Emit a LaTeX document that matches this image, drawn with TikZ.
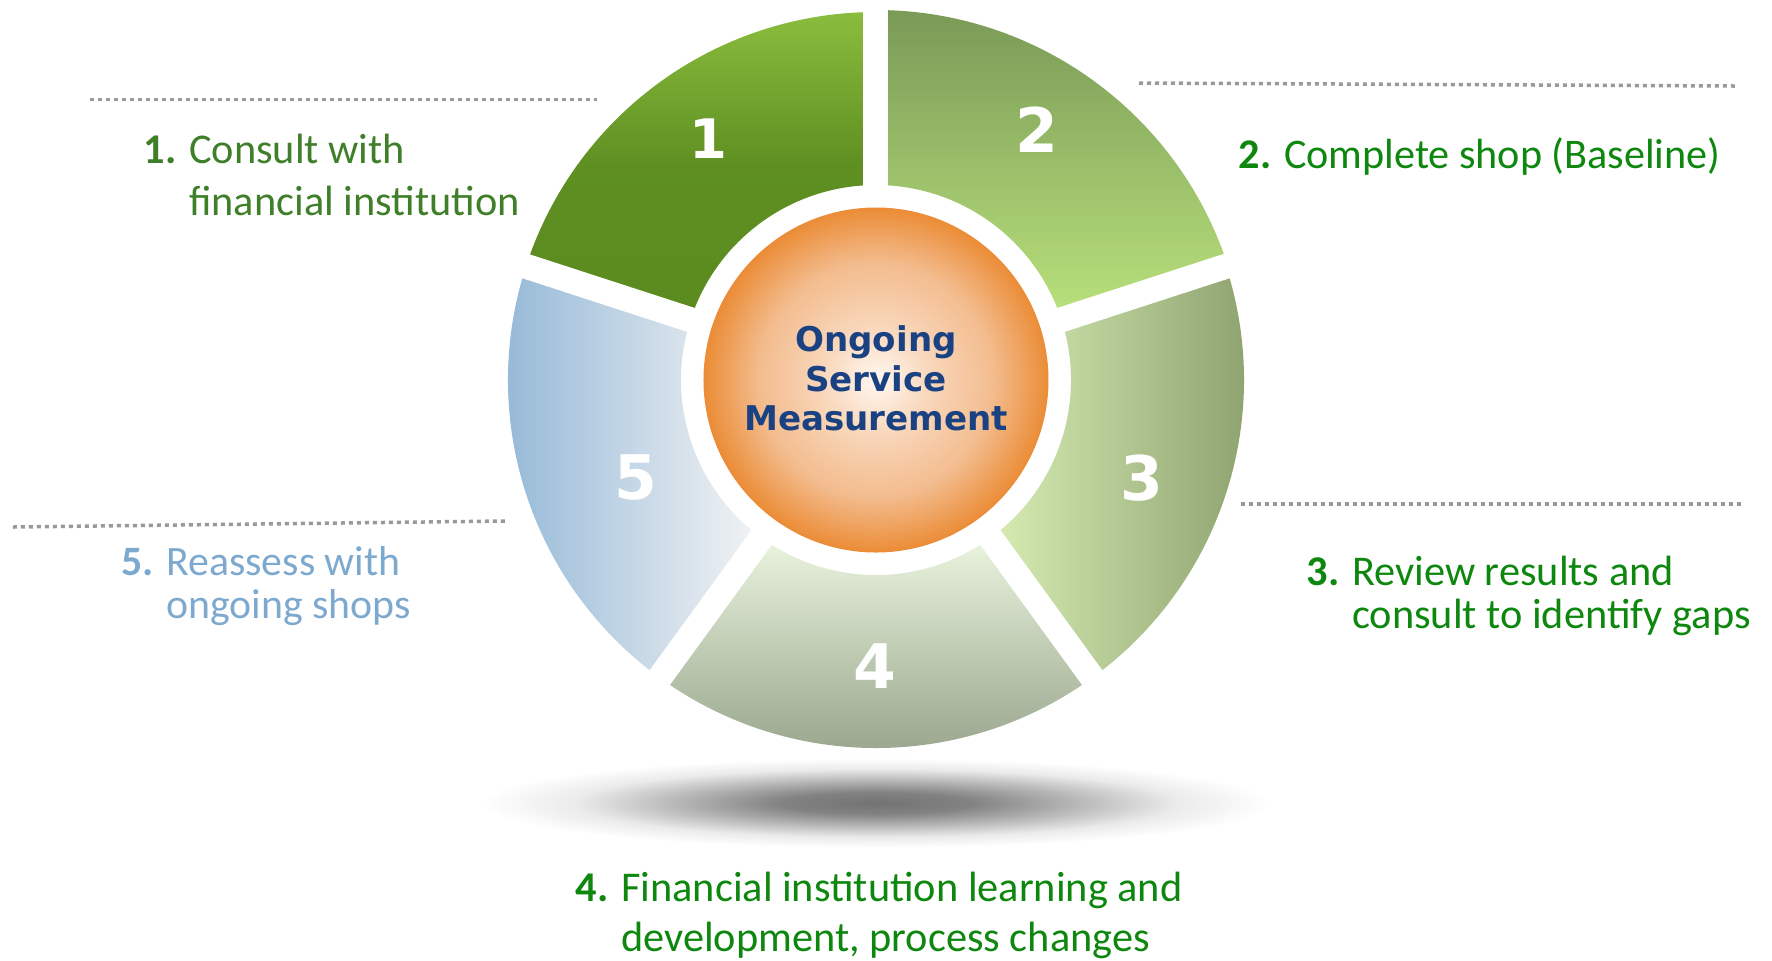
\documentclass[tikz,border=0pt]{standalone}
\usepackage{fontspec}
\setmainfont{Carlito}
\newfontfamily\hubfont{DejaVu Sans}
\usepackage{tikz}
\usepackage{xcolor}

% segment colours
\definecolor{oneTop}{HTML}{8ABD3E}
\definecolor{oneBot}{HTML}{5B8B1F}
\definecolor{twoTop}{HTML}{7A9A57}
\definecolor{twoBot}{HTML}{BAE27C}
\definecolor{threeL}{HTML}{D7EDB4}
\definecolor{threeR}{HTML}{879B69}
\definecolor{fourTop}{HTML}{EAF4DF}
\definecolor{fourBot}{HTML}{939F86}
\definecolor{fiveL}{HTML}{8CB3D5}
\definecolor{fiveR}{HTML}{F4F4F4}
% hub and text colours
\definecolor{hubLight}{HTML}{FFF7F0}
\definecolor{hubMid}{HTML}{F3BC8E}
\definecolor{hubDark}{HTML}{EB8C36}
\definecolor{hubBlue}{HTML}{1A4283}
\definecolor{labOlive}{HTML}{3F7F2A}
\definecolor{labGreen}{HTML}{0E870E}
\definecolor{labBlue}{HTML}{7EA9CF}

\pgfdeclareradialshading{hubglow}{\pgfpoint{0bp}{0bp}}{color(0bp)=(hubLight); color(8bp)=(hubMid!55!hubLight); color(17bp)=(hubMid); color(25bp)=(hubDark); color(50bp)=(hubDark)}
\pgfdeclareradialshading{floorshadow}{\pgfpoint{0bp}{0bp}}{color(0bp)=(black!55); color(6bp)=(black!49); color(13bp)=(black!27); color(19bp)=(black!8); color(25bp)=(white); color(50bp)=(white)}

\tikzset{
  leader/.style={draw=gray!80, line width=0.035cm, dash pattern=on 0.04cm off 0.04cm},
  segnum/.style={text=white, inner sep=0pt, font=\hubfont\bfseries\fontsize{17.5}{17.5}\selectfont},
  steplabel/.style={anchor=base west, inner sep=0pt, align=left},
}

\begin{document}
\begin{tikzpicture}
\useasboundingbox (-8.76,-5.80) rectangle (8.96,3.80);

% shadow on the floor
\shade[shading=floorshadow] (0,-4.23) ellipse (3.95 and 0.45);

% the five ring segments
\shade[top color=oneTop, bottom color=oneBot, middle color=oneBot!92!oneTop]
  (90:1.95) -- (90:3.68) arc[start angle=90, end angle=162, radius=3.68]
  -- (162:1.95) arc[start angle=162, end angle=90, radius=1.95] -- cycle;
\shade[top color=twoTop, bottom color=twoBot]
  (18:1.95) -- (18:3.70) arc[start angle=18, end angle=90, radius=3.70]
  -- (90:1.95) arc[start angle=90, end angle=18, radius=1.95] -- cycle;
\shade[left color=threeL, right color=threeR]
  (-54:1.95) -- (-54:3.68) arc[start angle=-54, end angle=18, radius=3.68]
  -- (18:1.95) arc[start angle=18, end angle=-54, radius=1.95] -- cycle;
\shade[top color=fourTop, bottom color=fourBot]
  (-126:1.95) -- (-126:3.68) arc[start angle=-126, end angle=-54, radius=3.68]
  -- (-54:1.95) arc[start angle=-54, end angle=-126, radius=1.95] -- cycle;
\shade[left color=fiveL, right color=fiveR]
  (162:1.95) -- (162:3.68) arc[start angle=162, end angle=234, radius=3.68]
  -- (234:1.95) arc[start angle=234, end angle=162, radius=1.95] -- cycle;

% white gaps between segments
\foreach \a in {90,18,-54,-126,162}
  \draw[white, line width=0.25cm] (0,0) -- (\a:3.9);

% hub
\shade[shading=hubglow] (0,0) circle (1.725);
\node[font=\hubfont\bfseries\fontsize{9.7}{11.1}\selectfont, text=hubBlue, align=center, anchor=base] (hub) at (0,-0.50) {Ongoing\\Service\\Measurement};

% segment numbers
\node[segnum, font=\hubfont\bfseries\fontsize{15.5}{15.5}\selectfont] (num1) at (-1.68,2.41) {1};
\node[segnum] (num2) at (1.61,2.50) {2};
\node[segnum] (num3) at (2.66,-0.98) {3};
\node[segnum] (num4) at (-0.015,-2.865) {4};
\node[segnum] (num5) at (-2.40,-0.98) {5};

% dotted leaders
\draw[leader] (-7.86,2.807) -- (-2.79,2.807);
\draw[leader] (2.63,2.97) -- (8.59,2.94);
\draw[leader] (3.65,-1.24) -- (8.68,-1.24);
\draw[leader] (-8.63,-1.47) -- (-3.71,-1.41);

% step texts (anchored on the baseline of their last line)
\node[steplabel, text=labOlive, font=\fontsize{12.05}{14.7}\selectfont] (lab1) at (-7.33,1.65)
  {\textbf{1.} Consult with\\\hphantom{\textbf{1.} }financial institution};
\node[steplabel, text=labGreen, font=\fontsize{12.0}{14.7}\selectfont] (lab2) at (3.62,2.117)
  {\textbf{2.} Complete shop (Baseline)};
\node[steplabel, text=labGreen, font=\fontsize{12.05}{12.2}\selectfont] (lab3) at (4.30,-2.48)
  {\textbf{3.} Review results and\\\hphantom{\textbf{3.} }consult to identify gaps};
\node[steplabel, text=labGreen, font=\fontsize{12.05}{14.2}\selectfont] (lab4) at (-3.01,-5.717)
  {\textbf{4.} Financial institution learning and\\\hphantom{\textbf{4.} }development, process changes};
\node[steplabel, text=labBlue, font=\fontsize{11.9}{12.2}\selectfont] (lab5) at (-7.553,-2.38)
  {\textbf{5.} Reassess with\\\hphantom{\textbf{5.} }ongoing shops};

\end{tikzpicture}
\end{document}
